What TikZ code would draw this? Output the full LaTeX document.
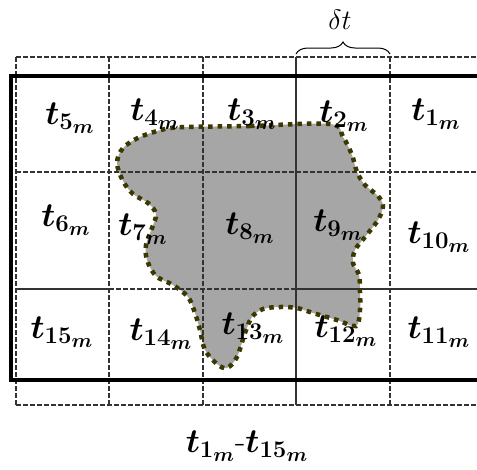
\documentclass[tikz,border=0pt]{standalone}
\usepackage{fix-cm}
\usepackage{amsmath, bm}
\usetikzlibrary{decorations.pathreplacing}
\DeclareMathSizes{34}{34}{24}{20}
\DeclareMathSizes{28}{28}{20}{14}
\definecolor{blobfill}{RGB}{166,166,166}
\definecolor{blobdot}{RGB}{59,56,0}
\definecolor{gridc}{RGB}{51,51,51}
\newcommand{\tlab}[1]{$\bm{t_{#1_m}}$}
\newcommand{\blobpath}{plot[smooth cycle, tension=0.55] coordinates {
  (187,127) (250,126) (330,124) (343,137) (352,155) (357,172) (365,185) (378,196)
  (383,206) (378,220) (365,237) (355,250) (353,263) (359,275) (360,292) (360,310)
  (356,326) (337,320) (313,313) (297,308) (280,307) (263,309) (252,317) (245,333)
  (237,357) (227,368) (217,364) (205,350) (200,330) (195,313) (188,297) (173,285)
  (156,276) (147,260) (146,245) (152,228) (156,214) (148,203) (133,194) (123,181)
  (117,163) (123,148) (140,137) (165,129)}}

\begin{document}
\begin{tikzpicture}[x=1pt, y=-1pt,
    lab/.style={font=\fontsize{34}{40}\selectfont, inner sep=0pt},
    griddash/.style={draw=gridc, line width=1.3pt, dash pattern=on 4.5pt off 2.5pt},
    gridsolid/.style={draw=gridc, line width=1.4pt}]
  \useasboundingbox (0,0) rectangle (477,469);
  % region
  \fill[blobfill] \blobpath;
  % dashed cells
  \foreach \x in {16,109,203,390} \draw[griddash] (\x,57)--(\x,405);
  \foreach \y in {57,172,405} \draw[griddash] (16,\y)--(477,\y);
  \draw[griddash] (109,289)--(296,289);
  \draw[gridsolid] (16,289)--(109,289); \draw[gridsolid] (296,289)--(477,289);
  \draw[gridsolid] (296,57)--(296,405);
  % frame
  \draw[line width=4pt] (477,76)--(11,76)--(11,380)--(477,380);
  % region outline
  \draw[blobdot, line width=4.5pt, dash pattern=on 4.5pt off 5pt] \blobpath;
  % row 1
  \node[lab] (t5) at (70,118){\tlab{5}};  \node[lab] (t4) at (155,114){\tlab{4}};
  \node[lab] (t3) at (252,114){\tlab{3}}; \node[lab] (t2) at (344,116){\tlab{2}};
  \node[lab] (t1) at (436,114){\tlab{1}};
  % row 2
  \node[lab] (t6) at (66,220){\tlab{6}};  \node[lab] (t7) at (143,229){\tlab{7}};
  \node[lab] (t8) at (250,228){\tlab{8}}; \node[lab] (t9) at (338,225){\tlab{9}};
  \node[lab] (t10) at (439,237){\tlab{10}};
  % row 3
  \node[lab] (t15) at (62,332){\tlab{15}}; \node[lab] (t14) at (161,334){\tlab{14}};
  \node[lab] (t13) at (253,328){\tlab{13}}; \node[lab] (t12) at (346,331){\tlab{12}};
  \node[lab] (t11) at (439,332){\tlab{11}};
  % delta t
  \coordinate (bl) at (296,54); \coordinate (br) at (390,54);
  \draw[decorate, decoration={brace, amplitude=12pt}, line width=1pt] (bl)--(br);
  \node[font=\fontsize{28}{32}\selectfont, inner sep=0pt] (dt) at (340,20){$\delta t$};
  % range
  \node[lab] (range) at (247,446){\tlab{1}-\tlab{15}};
\end{tikzpicture}
\end{document}
